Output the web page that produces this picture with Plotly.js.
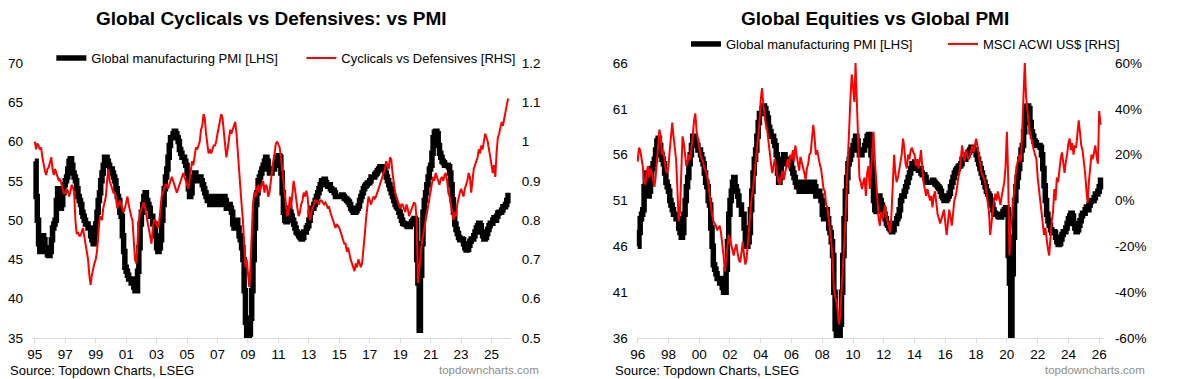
<!DOCTYPE html>
<html><head><meta charset="utf-8">
<script src="https://cdn.plot.ly/plotly-3.0.1.min.js"></script>
<style>html,body{margin:0;padding:0;background:#fff;}#chart{width:1200px;height:379px;}</style>
</head><body><div id="chart"></div>
<script>
// Global manufacturing PMI, monthly from Jan 1995
const pmi = [
57.5,53,50,47,46,46.5,48,47.5,46.5,46,45.6,45.5,
46,47.5,49,49.5,50,52.5,54,53,51.5,52,53.5,54.5,
55,55.5,56.5,57.5,57.8,57,56,55.5,55,54,53,52.5,
52,51,50.5,50,49.5,49.5,49,49,48,47.5,47,47.5,
49.5,51,52.5,53.5,55,56,57,58,58,57.5,57,56.5,
56.5,56,55.5,55,54,53,52.5,51,50.5,48,46,44,
43.5,43,42.5,42.5,42,42.5,41.5,41,41,43.5,46.5,49.5,
51,52,53,53.5,52.5,52,51.5,50.5,50.5,49.5,49.5,48,
46.5,46,46.5,47.5,50,52,54,55.5,56.5,58,59.5,60.5,
60.5,61,61.3,61,60.5,60,59,58.5,58,58,57.5,57,
56,54,53,53.5,55,55.5,56,55.5,55.5,55,55.5,55,
54.5,54,53.5,53,52.5,52.5,52,52.5,53,52.5,52,52,
52.5,53,52.5,52,52.5,53,52.5,51.5,51.5,52,51.5,51,
49.5,49,49.5,50,49,48,47.5,46.5,45,41,37,35,
35,35.5,37.5,41,45,49,52,53.5,55,55.5,56,56.5,
57,57.5,58,57.5,56.5,56,56,56.5,56.5,57,57.5,58,
58.2,58,56,53.5,51,50,49.8,50.5,51.5,51,50.5,50,
49.5,49,48.5,48.3,48,47.8,47.6,47.8,48.5,48.5,49,49.3,
50,51,51.5,51.5,52,52.5,53,53.5,54,54.5,55,55,
55.2,54.8,54.5,54.3,54.5,54,53.8,53.8,53.5,53,53,53,
53,53,53.2,53,52.8,52.7,52.5,52.3,52,51.5,51.3,51,
51,51.2,51.5,51.8,52.5,53,53.5,54,54.3,54.5,54.7,54.8,
55,55.5,55.5,55.5,55.8,56,56.3,56.5,56.8,56.8,56.5,56.5,
56,55.5,55,54.5,54,53.5,53,52.5,52,51.7,51.5,51,
50.5,50,49.6,49.5,49.5,49.3,49.2,49.2,49.5,49.8,50,50.2,
50,45,42,36,43,47,51,52.5,53.5,54.5,55.5,56.5,
57,58.5,60.5,61.2,61.3,61,59.5,58.5,58,57.5,57.3,57,
57,57,56.8,56,54.5,52.6,51,49.5,48.8,48.3,47.8,47.5,
47.6,47.5,47,46.5,46.2,46.3,46.8,47.3,47.6,47.6,48,48.5,
49,49.3,49.6,49.3,48.5,48,47.6,47.8,48.3,48.8,49.3,49.6,
49.6,50,50.3,50,50.5,50.9,51,51,51.3,51.7,51.7,52,
52.5,53.5];
// Cyclicals vs Defensives relative, monthly from Jan 1995
const cycDef = [
1.00,0.98,0.995,0.99,0.98,0.985,0.96,0.94,0.925,0.915,0.93,0.935,
0.95,0.96,0.93,0.915,0.93,0.92,0.91,0.90,0.905,0.89,0.875,0.866,
0.87,0.88,0.875,0.86,0.87,0.89,0.885,0.87,0.80,0.765,0.77,0.76,
0.76,0.77,0.78,0.76,0.74,0.72,0.70,0.66,0.635,0.66,0.68,0.69,
0.70,0.72,0.76,0.80,0.81,0.80,0.83,0.85,0.86,0.90,0.93,0.90,
0.89,0.88,0.87,0.87,0.86,0.83,0.84,0.85,0.84,0.83,0.82,0.83,
0.85,0.86,0.84,0.82,0.81,0.80,0.75,0.70,0.69,0.76,0.80,0.82,
0.83,0.84,0.845,0.83,0.81,0.80,0.78,0.75,0.74,0.78,0.80,0.80,
0.79,0.78,0.79,0.83,0.86,0.87,0.88,0.89,0.89,0.88,0.89,0.90,
0.91,0.90,0.89,0.88,0.87,0.88,0.89,0.90,0.91,0.92,0.91,0.90,
0.89,0.88,0.90,0.93,0.95,0.94,0.96,0.985,0.98,0.99,1.00,1.03,
1.04,1.07,1.06,1.02,1.00,0.97,0.98,0.97,0.98,0.99,0.99,1.00,
1.02,1.04,1.05,1.07,1.06,1.03,1.00,0.96,0.98,1.01,1.03,1.02,
1.03,1.04,1.05,1.02,0.97,0.92,0.88,0.84,0.80,0.72,0.68,0.70,
0.66,0.63,0.68,0.78,0.84,0.87,0.86,0.88,0.89,0.87,0.88,0.89,
0.90,0.87,0.89,0.885,0.86,0.87,0.90,0.93,0.95,0.97,0.995,1.00,
0.99,0.985,0.96,0.93,0.90,0.86,0.84,0.81,0.82,0.86,0.83,0.87,
0.90,0.88,0.85,0.83,0.81,0.82,0.84,0.85,0.87,0.86,0.875,0.86,
0.82,0.80,0.82,0.83,0.84,0.85,0.85,0.845,0.84,0.85,0.85,0.845,
0.84,0.845,0.84,0.83,0.835,0.82,0.81,0.80,0.79,0.78,0.79,0.785,
0.78,0.77,0.76,0.75,0.74,0.74,0.72,0.73,0.71,0.70,0.69,0.68,
0.67,0.69,0.68,0.70,0.69,0.68,0.69,0.72,0.76,0.80,0.84,0.86,
0.85,0.84,0.85,0.86,0.855,0.86,0.87,0.88,0.89,0.90,0.91,0.915,
0.93,0.95,0.94,0.93,0.96,0.955,0.92,0.89,0.87,0.86,0.85,0.84,
0.83,0.84,0.84,0.83,0.82,0.84,0.83,0.81,0.82,0.83,0.84,0.845,
0.84,0.80,0.64,0.68,0.72,0.74,0.76,0.78,0.80,0.81,0.83,0.86,
0.88,0.89,0.91,0.90,0.92,0.91,0.90,0.89,0.905,0.91,0.90,0.915,
0.92,0.90,0.87,0.86,0.84,0.82,0.80,0.82,0.81,0.84,0.86,0.87,
0.88,0.87,0.86,0.88,0.89,0.90,0.92,0.91,0.87,0.90,0.93,0.94,
0.95,0.96,0.98,0.97,0.99,0.98,1.00,1.02,1.01,1.00,0.98,0.96,
0.93,0.92,0.94,0.91,0.97,1.01,1.02,1.04,1.05,1.04,1.06,1.08,
1.09,1.11];
// MSCI ACWI US$ year-on-year %, monthly from Jan 1996
const msciYoY = [
17,23,22,19,15,8,7,12,15,10,14,12,
9,6,10,18,25,31,28,20,22,18,13,12,
15,22,30,34,28,22,18,5,-9,-5,15,28,
25,18,15,17,20,18,22,28,35,38,30,26,
22,20,18,17,14,13,11,8,3,-2,-6,-9,
-10,-11,-13,-12,-11,-14,-18,-24,-31,-25,-18,-15,
-17,-20,-22,-24,-21,-19,-23,-26,-27,-21,-18,-24,
-28,-25,-18,-12,-5,2,5,10,15,22,28,34,
44,49,42,37,33,31,25,20,16,12,15,18,
14,10,8,7,11,13,9,12,15,18,14,20,
18,22,17,24,20,16,13,19,17,15,12,9,
14,16,20,21,26,33,28,20,22,18,16,14,
10,5,4,-2,-3,-8,-12,-18,-25,-38,-42,-44,
-48,-54,-50,-40,-32,-20,-10,5,20,34,45,55,
50,43,60,42,25,10,8,5,8,10,2,12,
15,5,12,20,30,18,10,-1,-8,-11,-5,-8,
-5,-2,-7,-9,-12,-14,-6,8,20,12,8,10,
14,17,20,27,23,16,14,20,18,22,23,21,
20,15,18,14,17,22,15,8,5,2,5,3,
0,2,-3,2,4,-1,-6,-8,-10,-8,-6,-4,
-10,-15,-10,-4,-7,-11,-6,0,2,5,10,12,
18,24,20,17,22,20,18,19,22,24,21,24,
27,24,20,17,13,11,10,8,4,-1,-5,-15,
-10,-3,0,3,0,4,1,-2,2,5,8,15,
30,10,-24,-12,-6,2,8,12,16,18,20,17,
33,42,60,45,38,34,30,27,25,22,20,18,
10,5,2,-3,-8,-15,-12,-18,-21,-24,-15,-9,
-5,5,0,10,8,15,18,21,16,12,17,20,
25,27,22,25,20,24,23,29,35,30,24,22,
18,12,5,-1,8,15,20,18,22,24,19,16,
39,33];

const leftXTickLabels = ['95','97','99','01','03','05','07','09','11','13','15','17','19','21','23','25'];
const rightXTickLabels = ['96','98','00','02','04','06','08','10','12','14','16','18','20','22','24','26'];
const leftYTicks = [35,40,45,50,55,60,65,70];
const leftY2Ticks = [0.5,0.6,0.7,0.8,0.9,1.0,1.1,1.2];
const leftY2Labels = ['0.5','0.6','0.7','0.8','0.9','1','1.1','1.2'];
const rightYTicks = [36,41,46,51,56,61,66];
const rightY2Ticks = [-60,-40,-20,0,20,40,60];
const rightY2Labels = ['-60%','-40%','-20%','0%','20%','40%','60%'];

function monthDates(startYear, n){
  const out=[];
  for(let i=0;i<n;i++){
    const y=startYear+Math.floor(i/12), m=(i%12)+1;
    out.push(y+'-'+(m<10?'0':'')+m+'-01');
  }
  return out;
}
function yearDate(lbl){ const v=parseInt(lbl,10); return ((v>50?1900:2000)+v)+'-01-01'; }

const datesL = monthDates(1995, pmi.length);
const datesR = monthDates(1996, msciYoY.length);
const pmiR = pmi.slice(12);

const F = '"Liberation Sans", Arial, sans-serif';
const W=1200,H=379;
const yDom=[1-338/H, 1-63/H];

const traces = [
 {x:datesL, y:pmi, type:'scatter', mode:'lines', name:'Global manufacturing PMI [LHS]', line:{color:'#000000', width:5.5, shape:'hv'}, xaxis:'x', yaxis:'y', legend:'legend'},
 {x:datesL, y:cycDef, type:'scatter', mode:'lines', name:'Cyclicals vs Defensives [RHS]', line:{color:'#ff0000', width:2}, xaxis:'x', yaxis:'y2', legend:'legend'},
 {x:datesR.slice(0,pmiR.length), y:pmiR, type:'scatter', mode:'lines', name:'Global manufacturing PMI [LHS]', line:{color:'#000000', width:5.5, shape:'hv'}, xaxis:'x2', yaxis:'y3', legend:'legend2'},
 {x:datesR, y:msciYoY, type:'scatter', mode:'lines', name:'MSCI ACWI US$ [RHS]', line:{color:'#ff0000', width:2}, xaxis:'x2', yaxis:'y4', legend:'legend2'}
];

const tickFont={family:F, size:13.5, color:'#000'};
const xCommon={type:'date', showgrid:false, zeroline:false, showline:true, linecolor:'#d9d9d9', linewidth:1, ticks:'outside', ticklen:4, tickcolor:'#d9d9d9', tickfont:tickFont, fixedrange:true};
const yCommon={showgrid:false, zeroline:false, showline:false, ticks:'', tickfont:tickFont, fixedrange:true};

const layout={
 width:W, height:H, margin:{l:0,r:0,t:0,b:0}, paper_bgcolor:'#fff', plot_bgcolor:'#fff',
 font:{family:F, size:13, color:'#000'}, showlegend:true,
 xaxis:Object.assign({}, xCommon, {domain:[33/W,527/W], anchor:'y', range:['1994-10-25','2026-04-07'], tickvals:leftXTickLabels.map(yearDate), ticktext:leftXTickLabels}),
 yaxis:Object.assign({}, yCommon, {domain:yDom, anchor:'x', range:[35,70], tickvals:leftYTicks, ticktext:leftYTicks.map(String), ticklabelstandoff:8}),
 yaxis2:Object.assign({}, yCommon, {overlaying:'y', side:'right', anchor:'x', range:[0.5,1.2], tickvals:leftY2Ticks, ticktext:leftY2Labels, ticklabelstandoff:10}),
 xaxis2:Object.assign({}, xCommon, {domain:[657/W,1139/W], anchor:'y3', range:['1995-12-10','2026-04-22'], tickvals:rightXTickLabels.map(yearDate), ticktext:rightXTickLabels}),
 yaxis3:Object.assign({}, yCommon, {domain:yDom, anchor:'x2', range:[36,66], tickvals:rightYTicks, ticktext:rightYTicks.map(String), ticklabelstandoff:8}),
 yaxis4:Object.assign({}, yCommon, {overlaying:'y3', side:'right', anchor:'x2', range:[-60,60], tickvals:rightY2Ticks, ticktext:rightY2Labels, ticklabelstandoff:10}),
 legend:{orientation:'h', x:53/W, y:1-58/H, xanchor:'left', yanchor:'middle', bgcolor:'rgba(0,0,0,0)', font:{family:F,size:13,color:'#000'}, traceorder:'normal', entrywidth:205},
 legend2:{orientation:'h', x:708/W, y:1-44/H, xanchor:'left', yanchor:'middle', bgcolor:'rgba(0,0,0,0)', font:{family:F,size:13,color:'#000'}, traceorder:'normal', entrywidth:212},
 annotations:[
  {text:'<b>Global Cyclicals vs Defensives: vs PMI</b>', xref:'paper', yref:'paper', x:280/W, y:1-18/H, xanchor:'center', yanchor:'middle', showarrow:false, font:{family:F,size:19,color:'#000'}},
  {text:'<b>Global Equities vs Global PMI</b>', xref:'paper', yref:'paper', x:903/W, y:1-18/H, xanchor:'center', yanchor:'middle', showarrow:false, font:{family:F,size:19,color:'#000'}},
  {text:'Source: Topdown Charts, LSEG', xref:'paper', yref:'paper', x:8/W, y:1-370/H, xanchor:'left', yanchor:'middle', showarrow:false, font:{family:F,size:13,color:'#000'}},
  {text:'Source: Topdown Charts, LSEG', xref:'paper', yref:'paper', x:632/W, y:1-370/H, xanchor:'left', yanchor:'middle', showarrow:false, font:{family:F,size:13,color:'#000'}},
  {text:'topdowncharts.com', xref:'paper', yref:'paper', x:558/W, y:1-370/H, xanchor:'right', yanchor:'middle', showarrow:false, font:{family:F,size:11.5,color:'#8c8c8c'}},
  {text:'topdowncharts.com', xref:'paper', yref:'paper', x:1183/W, y:1-370/H, xanchor:'right', yanchor:'middle', showarrow:false, font:{family:F,size:11.5,color:'#8c8c8c'}}
 ]
};
Plotly.newPlot('chart', traces, layout, {staticPlot:true, displayModeBar:false});
</script></body></html>
